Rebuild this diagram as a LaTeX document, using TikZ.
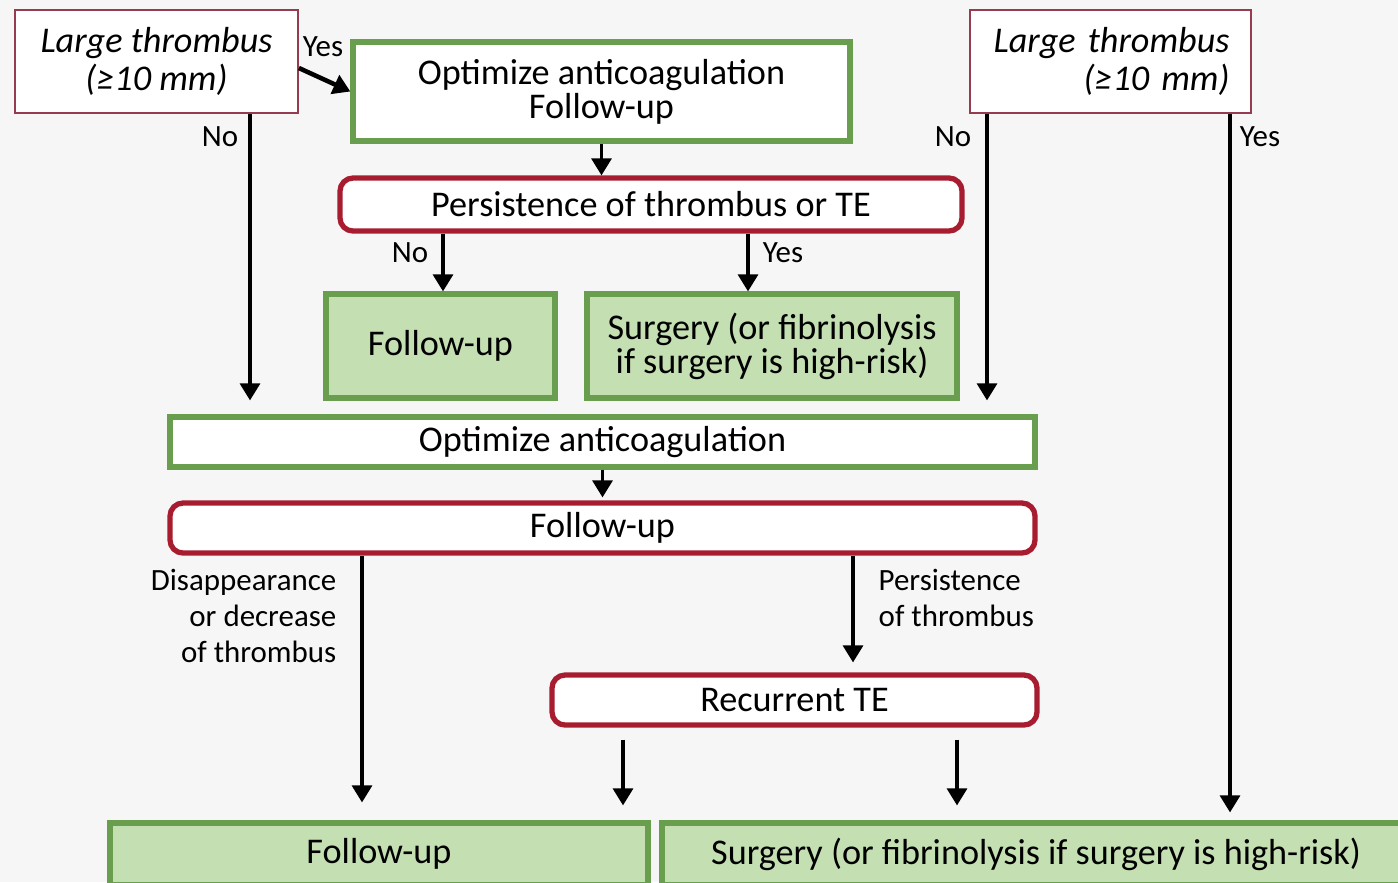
\documentclass[tikz,border=0pt]{standalone}
\usepackage{fontspec}
\setmainfont{Carlito}
\usetikzlibrary{positioning,arrows.meta,calc}
\definecolor{fcGreen}{RGB}{104,158,78}
\definecolor{fcFill}{RGB}{196,223,178}
\definecolor{fcRed}{RGB}{168,28,48}
\definecolor{fcMaroon}{RGB}{150,60,80}
\definecolor{fcBack}{RGB}{246,246,246}

\begin{document}
\begin{tikzpicture}[
  greenbox/.style={draw=fcGreen, line width=1.5pt, fill=white, inner sep=0pt, align=center, font=\fontsize{10.3}{9.6}\selectfont},
  greenfill/.style={greenbox, fill=fcFill},
  redround/.style={draw=fcRed, line width=1.5pt, fill=white, rounded corners=0.13cm, inner sep=0pt, font=\fontsize{10.3}{12}\selectfont},
  question/.style={draw=fcMaroon, line width=0.5pt, fill=white, inner sep=0pt, font=\fontsize{10.3}{11}\selectfont\itshape},
  answer/.style={inner sep=0pt, font=\fontsize{8.8}{10.2}\selectfont},
  flow/.style={line width=0.9pt, -{Triangle[width=0.2cm,length=0.17cm]}}
]
  % Frame
  \useasboundingbox (0,0) rectangle (13.98,-8.82);
  \clip (0,0) rectangle (13.98,-8.82);
  \fill[fcBack] (0,0) rectangle (13.98,-8.82);

  % Columns of the vertical connectors
  \coordinate (cNoL) at (2.50,0);
  \coordinate (cNoR) at (9.87,0);
  \coordinate (cYesR) at (12.30,0);
  \coordinate (cPersNo) at (4.43,0);
  \coordinate (cPersYes) at (7.48,0);
  \coordinate (cDis) at (3.62,0);
  \coordinate (cPer) at (8.53,0);
  \coordinate (cRecL) at (6.23,0);
  \coordinate (cRecR) at (9.57,0);

  % Questions
  \node[question, minimum width=2.83cm, minimum height=1.03cm, align=center] (lgLeft) at (1.565,-0.615)
    {Large thrombus\\(≥10 mm)};
  \node[question, minimum width=2.81cm, minimum height=1.03cm, text width=2.38cm, align=right] (lgRight) at (11.105,-0.615)
    {Large thrombus\\(≥10 mm)};

  % Upper branch
  \node[greenbox, minimum width=4.97cm, minimum height=0.99cm] (optOne) at (6.015,-0.915)
    {Optimize anticoagulation\\Follow-up};
  \node[redround, minimum width=6.22cm, minimum height=0.53cm] (pers) at (6.51,-2.045)
    {Persistence of thrombus or TE};
  \node[greenfill, minimum width=2.29cm, minimum height=1.04cm] (fuOne) at (4.405,-3.46)
    {Follow-up};
  \node[greenfill, minimum width=3.70cm, minimum height=1.04cm] (surgOne) at (7.72,-3.46)
    {Surgery (or fibrinolysis\\if surgery is high-risk)};

  % Lower branch
  \node[greenbox, minimum width=8.65cm, minimum height=0.50cm] (optTwo) at (6.025,-4.42)
    {Optimize anticoagulation};
  \node[redround, minimum width=8.65cm, minimum height=0.50cm] (fuTwo) at (6.025,-5.28)
    {Follow-up};
  \node[redround, minimum width=4.85cm, minimum height=0.50cm] (recur) at (7.945,-7.00)
    {Recurrent TE};
  \node[greenfill, minimum width=5.38cm, minimum height=0.62cm] (fuThree) at (3.79,-8.54)
    {Follow-up};
  \node[greenfill, minimum width=7.48cm, minimum height=0.62cm] (surgThree) at (10.36,-8.54)
    {Surgery (or fibrinolysis if surgery is high-risk)};

  % Connectors
  \draw[flow, line width=1.3pt] ([yshift=-0.065cm]lgLeft.east) -- (optOne.west);
  \draw[flow] (optOne.south) -- (optOne.south |- pers.north);
  \draw[flow] (pers.south -| cPersNo) -- (fuOne.north -| cPersNo);
  \draw[flow] (pers.south -| cPersYes) -- (surgOne.north -| cPersYes);
  \draw[flow, shorten >=0.14cm] (lgLeft.south -| cNoL) -- (optTwo.north -| cNoL);
  \draw[flow, shorten >=0.14cm] (lgRight.south -| cNoR) -- (optTwo.north -| cNoR);
  \draw[flow, shorten >=0.08cm] (lgRight.south -| cYesR) -- (surgThree.north -| cYesR);
  \draw[flow, shorten >=0.03cm] (optTwo.south) -- (fuTwo.north);
  \draw[flow, shorten >=0.18cm] (fuTwo.south -| cDis) -- (fuThree.north -| cDis);
  \draw[flow, shorten >=0.10cm] (fuTwo.south -| cPer) -- (recur.north -| cPer);
  \draw[flow, shorten <=0.12cm, shorten >=0.15cm] (recur.south -| cRecL) -- (fuThree.north -| cRecL);
  \draw[flow, shorten <=0.12cm, shorten >=0.15cm] (recur.south -| cRecR) -- (surgThree.north -| cRecR);

  % Answers
  \node[answer] (aYesL) at (3.23,-0.47) {Yes};
  \node[answer] (aNoL) at (2.20,-1.37) {No};
  \node[answer] (aNoP) at (4.10,-2.53) {No};
  \node[answer] (aYesP) at (7.83,-2.53) {Yes};
  \node[answer] (aNoR) at (9.53,-1.37) {No};
  \node[answer] (aYesR) at (12.60,-1.37) {Yes};
  \node[answer, align=right, anchor=east] (aDis) at (3.37,-6.16) {Disappearance\\or decrease\\of thrombus};
  \node[answer, align=left, anchor=west] (aPer) at (8.78,-5.98) {Persistence\\of thrombus};
\end{tikzpicture}
\end{document}
